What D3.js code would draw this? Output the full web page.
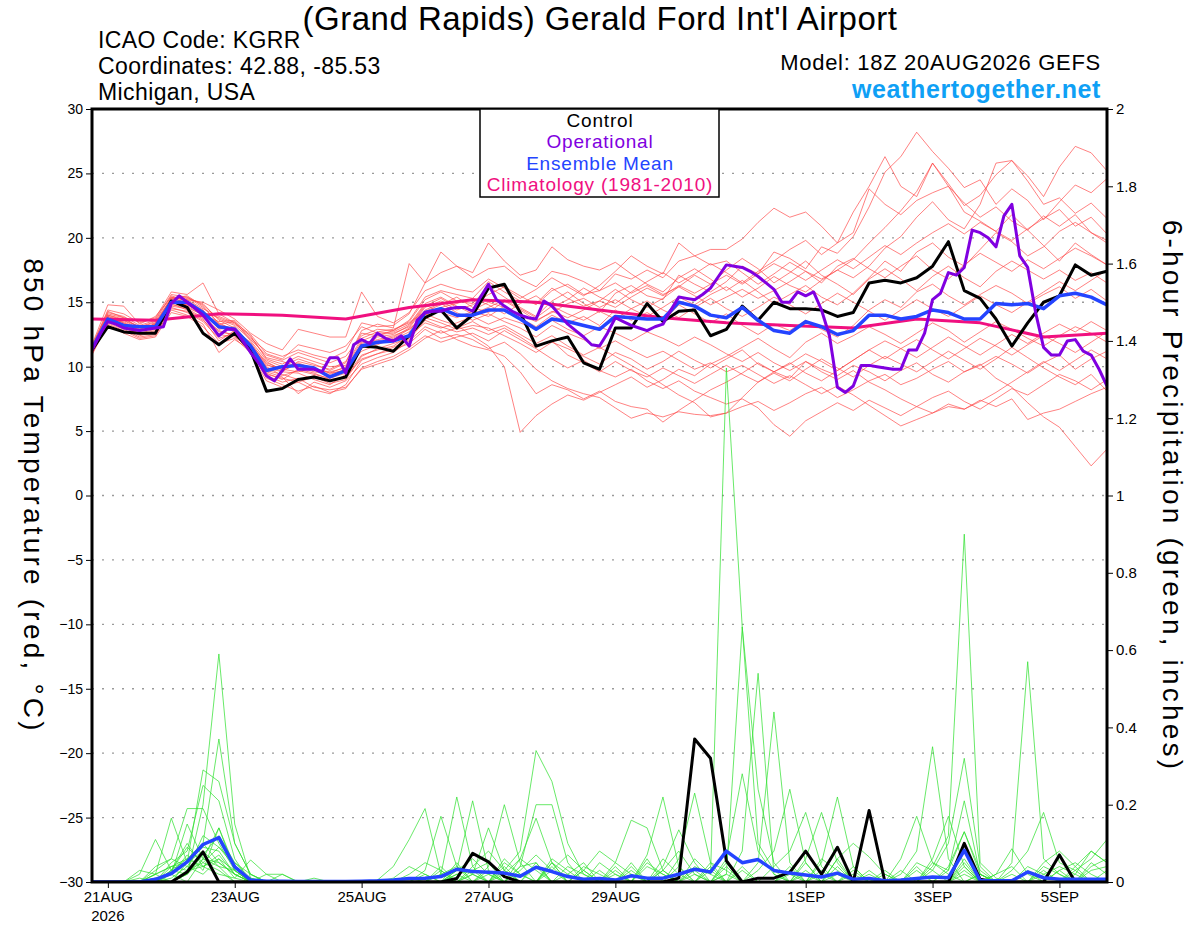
<!DOCTYPE html>
<html>
<head>
<meta charset="utf-8">
<script src="https://cdn.jsdelivr.net/npm/d3@7"></script>
<style>
  html, body { margin:0; padding:0; background:#fff; }
  svg { display:block; font-family: "Liberation Sans", Arial, sans-serif; }
</style>
</head>
<body>
<svg id="chart" width="1200" height="927"></svg>
<script>
// ---------------- DATA ----------------
const runStart = "2026-08-20T18:00:00Z";   // 6-hourly steps, 65 points
const xTickDates  = ["2026-08-21","2026-08-23","2026-08-25","2026-08-27","2026-08-29","2026-09-01","2026-09-03","2026-09-05"];
const xTickLabels = ["21AUG","23AUG","25AUG","27AUG","29AUG","1SEP","3SEP","5SEP"];
const tempTicks = [30,25,20,15,10,5,0,-5,-10,-15,-20,-25,-30];
const precipTicks = [0,0.2,0.4,0.6,0.8,1,1.2,1.4,1.6,1.8,2];

// Control 850 hPa temperature (6-hourly)
const controlTemp = [11.3,13.1,12.7,12.6,12.6,15.1,14.6,12.6,11.7,12.6,
  11.3,8.1,8.3,9.0,9.2,8.9,9.2,11.6,11.5,11.2,
  12.4,13.8,14.4,13.0,14.0,16.1,16.4,14.2,11.6,12.0,
  12.3,10.3,9.8,13.0,13.0,14.9,13.5,14.3,14.4,12.4,
  12.9,14.7,13.6,15.0,14.5,14.5,14.4,13.9,14.2,16.5,
  16.7,16.5,16.9,17.8,19.7,15.9,15.3,13.7,11.6,13.4,
  15.0,15.5,17.9,17.1,17.4];
// Ensemble mean temperature (6-hourly)
const meanTemp = [11.4,13.7,13.2,13.1,13.1,15.0,15.0,14.2,13.1,12.9,
  11.6,9.7,10.0,10.1,9.9,9.2,9.7,11.6,11.9,12.0,
  12.4,14.2,14.5,14.0,14.0,14.4,14.4,13.7,12.9,13.7,
  13.5,13.2,12.9,13.9,13.8,13.7,13.7,15.0,14.7,14.0,
  13.8,14.6,13.6,12.8,12.6,13.5,13.1,12.5,12.8,14.0,
  14.0,13.7,13.9,14.4,14.2,13.7,13.7,14.9,14.8,14.9,
  14.5,15.5,15.7,15.4,14.8];
// Operational run temperature (3-hourly, 129 points)
const operTemp = [11.3,12.5,13.5,13.3,13.0,12.9,12.8,12.9,13.0,13.1,
  14.9,15.5,15.0,14.5,14.0,13.2,12.4,12.9,12.9,12.0,
  11.1,10.3,9.3,8.9,9.7,10.6,9.8,9.8,9.8,9.6,
  10.7,10.7,9.5,11.7,12.1,11.8,12.6,12.2,12.0,12.4,
  11.6,13.6,14.2,14.3,14.3,14.5,14.6,14.6,14.3,15.4,
  16.4,15.2,14.7,14.3,14.0,13.8,13.7,15.1,14.7,14.0,
  13.3,12.8,12.3,11.7,11.6,12.6,13.8,13.5,13.2,13.0,
  12.8,13.1,13.3,14.4,15.4,15.3,15.2,15.6,16.1,17.0,
  17.9,17.8,17.7,17.4,17.0,16.5,16.0,15.0,15.0,15.8,
  15.5,15.8,14.4,12.4,8.4,8.0,8.5,10.1,10.1,10.0,
  9.9,9.8,9.8,11.3,11.3,12.6,15.2,15.7,17.3,17.1,
  17.7,20.6,20.4,20.0,19.3,21.7,22.6,18.6,17.7,14.2,
  11.5,10.9,10.9,12.0,12.1,11.2,10.9,9.8,8.5];
// Climatology 1981-2010 (daily, 17 points from 18Z 20AUG)
const climTemp = [13.7,13.6,14.1,14.0,13.7,14.6,15.2,15.0,14.4,13.8,13.4,13.2,13.0,13.7,13.4,12.3,12.6];

// Ensemble members, temperature (6-hourly)
const tempMembers = [
 [11.2,13.9,13.6,12.9,13.3,15.2,15.4,14.6,13.4,12.8, 11.9,10.2,9.6,10.4,10.1,9.8,10.4,12.6,12.4,12.8, 13.5,15.2,15.8,15.1,14.9,16.2,15.4,14.6,13.9,15.1, 15.8,14.9,14.2,15.7,16.3,15.5,15.2,17.1,16.4,15.8, 16.6,17.8,17.2,18.9,18.4,17.6,19.3,18.8,20.1,22.4, 25.1,26.3,28.2,26.7,25.4,23.9,24.5,22.6,23.8,22.9, 21.4,22.8,24.1,23.5,24.6],
 [11.0,13.5,13.1,12.6,12.9,14.8,14.6,14.0,12.7,12.5, 11.2,9.4,9.1,8.8,9.2,8.7,9.0,10.8,11.4,11.8, 12.2,13.8,13.4,12.9,13.2,13.0,12.4,11.8,11.1,11.9, 11.4,10.8,10.2,11.1,10.6,9.8,10.4,11.2,10.5,9.9, 10.6,11.3,10.2,9.6,9.1,10.4,9.8,9.3,10.1,9.6, 8.9,9.7,10.3,9.4,8.8,9.6,10.2,9.1,8.4,7.2, 6.1,5.3,3.8,2.3,3.6],
 [11.5,14.2,13.9,13.2,13.6,15.5,15.1,14.4,12.9,13.1, 11.7,10.1,9.9,10.3,9.8,9.6,9.9,11.8,12.1,12.4, 12.9,14.1,13.6,13.2,12.4,11.6,10.0,4.9,6.2,7.1, 7.8,7.4,8.0,8.6,9.2,8.4,9.0,9.8,9.3,10.2, 10.8,11.5,12.2,11.4,10.7,11.9,12.6,11.8,12.4,13.1, 12.5,11.8,12.6,13.4,12.8,11.9,12.7,13.5,12.9,12.2, 11.6,12.4,13.1,12.6,11.9],
 [11.3,13.7,13.2,12.4,12.7,14.6,14.2,13.5,12.2,12.6, 11.0,8.9,8.4,8.8,8.2,7.9,8.6,10.5,11.0,11.3, 11.8,12.9,12.2,12.5,12.1,11.4,11.9,11.0,9.8,8.9, 8.3,7.9,7.6,6.8,6.0,6.4,6.1,6.5,6.3,6.2, 6.4,6.9,7.3,6.6,7.2,7.9,8.4,7.6,8.2,8.9, 9.4,8.6,9.1,9.8,10.4,9.6,10.1,10.8,10.2,9.5, 10.3,10.9,9.8,10.6,11.2],
 [11.6,14.4,14.1,13.4,13.8,15.8,15.6,16.5,14.1,13.4, 12.2,11.2,10.8,11.3,10.9,10.6,11.2,13.4,13.1,13.2, 14.1,16.5,17.3,17.8,17.3,19.6,18.2,17.1,17.5,19.3, 18.3,17.8,17.5,18.1,17.2,16.4,15.8,16.9,17.6,16.8, 15.9,16.7,15.8,14.9,15.6,16.3,15.4,14.8,15.7,16.9, 18.2,17.4,18.9,19.6,18.5,17.8,19.1,20.4,19.7,18.6, 19.3,20.5,21.2,20.4,19.8],
 [11.1,13.6,13.5,12.8,13.0,15.0,15.3,14.9,13.6,13.0, 11.6,10.0,9.3,9.7,9.4,9.1,9.5,11.9,12.0,12.3, 13.0,14.6,15.1,14.4,14.8,15.6,16.2,15.5,14.8,15.9, 16.4,15.6,15.9,17.2,16.8,17.5,16.9,18.2,18.6,19.1, 19.1,19.9,21.2,22.3,21.6,22.0,20.9,19.6,22.0,24.0, 26.3,24.0,23.2,25.8,24.0,22.0,21.3,20.5,21.8,20.6, 19.4,18.2,19.6,18.7,17.9],
 [11.4,13.8,13.3,12.7,13.4,15.1,14.8,14.2,13.8,13.3, 12.4,10.6,10.2,10.8,10.4,10.0,10.1,12.2,12.7,12.9, 13.4,14.3,14.8,15.4,14.6,14.2,15.1,14.4,13.6,14.2, 14.9,15.3,14.6,15.2,14.5,13.9,14.6,15.4,14.8,15.6, 16.2,15.4,16.1,17.0,16.3,15.8,16.7,17.5,16.9,17.8, 19.2,20.1,21.6,22.8,21.4,20.7,22.6,25.8,26.0,24.8, 23.2,25.5,27.1,26.6,25.2],
 [10.9,13.4,12.9,12.3,12.5,14.4,14.0,13.3,11.1,12.1, 11.3,9.1,8.6,8.1,8.5,8.0,8.3,9.9,10.4,10.8, 11.5,12.4,11.9,12.3,12.6,12.0,12.8,12.1,11.4,10.6, 9.9,10.5,9.7,9.2,9.8,8.9,8.3,8.9,8.1,7.6, 7.1,7.5,6.8,5.5,4.6,5.8,6.5,7.2,6.6,7.4, 6.8,6.2,6.9,7.6,8.1,7.3,6.7,7.5,8.3,7.8, 8.6,9.4,8.9,8.2,9.0],
 [11.7,14.8,14.7,13.3,13.9,15.4,15.2,15.0,14.4,13.7, 12.6,11.8,11.3,12.9,12.6,12.3,12.3,15.8,13.9,13.4, 14.2,15.9,16.4,16.0,15.8,16.8,16.1,15.3,16.0,16.9, 16.2,15.5,16.3,17.4,18.6,17.8,17.2,19.6,18.6,17.9, 18.2,17.3,16.4,17.2,18.1,17.4,16.5,17.8,18.4,17.6, 16.9,17.8,18.6,17.5,16.8,17.9,18.8,18.1,17.4,18.3, 17.6,18.4,19.2,18.6,17.9],
 [11.3,14.0,13.7,13.1,13.5,15.3,15.5,14.7,13.3,13.5, 12.0,10.5,10.0,10.6,10.2,9.7,10.3,12.8,13.3,13.0, 18.0,16.5,18.9,17.8,16.9,17.6,17.8,16.8,16.2,17.4, 17.1,16.6,15.9,16.5,15.7,16.3,15.6,16.2,17.1,16.4, 17.5,18.4,17.6,16.5,17.3,18.2,17.1,16.4,15.6,16.8, 17.6,16.8,15.9,17.0,17.8,16.9,16.2,17.4,18.2,17.5, 16.8,17.5,16.7,17.3,16.5],
 [11.2,13.3,12.8,12.2,12.4,14.5,14.3,13.6,12.5,12.3, 11.4,9.6,9.2,7.9,8.8,8.4,8.9,10.2,10.7,11.1, 12.0,13.1,12.6,13.0,13.5,12.8,13.2,12.5,11.8,12.4, 11.6,10.9,11.5,10.8,10.1,9.4,8.6,7.8,7.2,6.1, 6.4,7.6,8.8,9.5,8.9,9.8,10.6,9.9,9.2,10.1, 10.8,10.2,9.6,10.4,11.2,10.5,9.8,10.6,11.5,10.7, 9.9,9.2,8.6,9.4,8.1],
 [11.5,14.1,13.8,13.0,13.2,15.4,14.9,14.1,13.0,12.9, 11.8,9.9,9.6,9.5,9.0,8.6,9.4,11.5,11.8,12.1, 12.7,14.4,14.9,14.2,13.6,14.1,13.5,13.0,12.3,13.2, 12.6,12.1,11.4,12.0,11.3,10.7,11.2,10.5,9.8,10.3, 9.6,10.1,9.4,8.7,9.3,8.6,7.9,8.5,7.8,7.0, 6.2,5.4,5.9,6.4,6.9,6.7,7.4,6.9,7.5,5.9, 6.4,6.7,7.3,7.9,8.4],
 [11.4,13.9,13.4,12.8,13.1,14.9,15.0,14.3,13.2,12.7, 11.5,10.3,9.8,9.6,9.9,9.5,9.7,11.4,12.3,12.5, 13.2,14.8,14.2,13.8,14.3,13.9,14.7,13.8,13.1,14.0, 13.4,13.9,13.2,14.4,13.6,14.2,13.5,14.8,14.1,13.4, 14.1,13.2,12.5,13.3,12.8,13.6,12.9,12.3,13.2,14.4, 15.2,14.6,15.8,16.4,15.5,14.8,15.6,16.3,15.7,14.9, 15.6,16.2,15.3,16.0,15.1],
 [11.6,14.3,13.8,13.5,13.7,15.6,15.4,14.8,13.7,13.2, 12.1,10.9,10.5,11.1,10.7,10.3,10.8,12.4,12.9,12.8, 13.6,15.4,15.9,15.6,15.3,16.6,15.8,15.1,14.9,16.1, 15.3,14.7,15.1,16.0,15.2,14.6,15.3,16.2,15.5,14.8, 15.4,16.0,15.3,15.9,16.6,17.4,16.8,17.5,18.3,19.6, 20.8,22.1,23.6,25.8,24.2,22.5,23.3,24.9,26.0,24.4, 22.6,23.1,21.9,22.7,21.5],
 [11.0,13.2,12.6,12.1,12.3,14.2,13.9,13.1,11.8,12.2, 11.1,9.3,8.8,9.1,8.4,8.2,8.4,9.8,10.2,10.6, 11.3,12.2,12.8,12.1,11.6,11.3,10.8,9.6,7.9,8.6, 8.2,7.5,8.1,7.3,6.9,6.7,5.7,6.6,7.4,8.2, 8.8,9.5,10.3,9.6,10.2,11.0,10.4,9.7,10.5,11.3, 12.0,11.4,10.7,11.5,12.3,11.6,10.9,11.7,12.5,11.8, 12.6,13.3,12.7,13.5,12.8],
 [11.3,13.6,13.2,12.9,13.3,15.1,14.7,14.0,13.5,13.6, 12.3,10.7,10.4,10.0,9.6,9.4,9.8,11.2,11.7,12.2, 12.9,14.0,14.6,14.9,15.3,14.8,14.1,14.9,15.5,14.6, 15.2,16.1,15.4,14.9,15.8,16.6,17.3,16.5,17.2,18.0, 17.3,16.5,17.4,18.2,19.1,19.8,18.7,19.6,20.4,23.8, 22.6,21.8,22.9,23.5,24.0,22.7,21.6,22.4,21.3,20.6, 21.7,20.9,21.8,20.4,19.6],
 [11.2,13.5,13.0,12.5,12.8,14.7,14.5,13.8,12.8,12.4, 11.3,9.7,9.4,9.0,9.3,8.9,9.2,10.9,11.3,11.6, 12.4,13.4,13.0,13.4,13.9,13.3,13.8,13.4,12.9,13.6, 12.9,12.4,13.1,12.6,12.0,12.7,12.2,11.6,12.3,11.7, 11.0,10.4,11.1,10.3,9.7,10.4,9.6,9.0,9.7,8.8, 8.2,7.5,6.9,6.4,7.1,6.7,7.3,8.0,8.8,9.6, 10.4,9.7,10.5,11.3,10.6],
 [11.5,14.0,13.6,13.1,13.4,15.3,15.2,14.5,13.9,13.4, 12.5,11.0,10.6,11.7,11.4,11.1,11.6,13.1,12.6,12.7, 13.3,14.9,15.4,14.7,14.1,14.6,15.2,14.5,13.8,14.7, 14.1,13.6,14.3,13.7,14.5,15.1,14.4,13.8,14.6,15.3, 14.5,13.9,14.6,15.4,14.8,14.1,14.9,15.7,15.0,14.3, 13.6,14.4,15.2,14.5,13.9,14.7,15.5,14.8,14.2,15.0, 15.8,16.6,15.9,16.7,17.5],
 [11.1,13.7,13.0,12.6,12.6,14.9,14.4,13.7,12.0,12.8, 11.5,9.5,9.0,9.8,9.5,9.0,9.2,10.6,11.0,11.5, 12.1,13.6,13.1,12.7,13.0,12.5,13.0,12.3,11.5,12.0, 10.9,10.3,9.6,10.4,9.7,9.2,9.9,9.3,8.7,9.4, 10.1,9.4,8.8,9.6,10.3,9.5,8.9,9.7,10.5,11.3, 10.6,11.4,12.1,11.3,10.6,11.4,12.2,11.6,10.9,11.7, 12.4,11.8,11.1,11.9,12.7],
 [11.3,13.8,13.4,12.8,13.0,15.0,14.8,14.2,13.3,12.9, 11.7,10.4,9.7,10.2,9.9,9.5,10.0,12.0,12.5,12.6, 13.1,14.7,15.3,14.6,14.4,15.0,14.6,14.0,13.5,14.3, 13.8,14.4,15.1,14.6,15.4,16.1,15.5,16.3,15.7,16.4, 17.1,16.4,17.2,18.0,17.4,16.7,17.5,18.3,17.6,18.5, 19.4,18.7,19.6,20.4,21.1,20.3,21.2,20.5,19.8,20.7, 21.5,22.2,20.9,21.6,20.3]
];

// Control 6-hour precipitation (inches)
const controlPrecip = [0,0,0,0,0,0,0.026,0.078,0,0,
  0,0,0,0,0,0,0,0,0,0,
  0,0,0,0.009,0.074,0.052,0.014,0,0,0,
  0,0,0,0,0,0,0,0.01,0.37,0.32,
  0.055,0,0.01,0.01,0.025,0.08,0.02,0.09,0,0.185,
  0,0,0,0,0,0.1,0.007,0,0,0,
  0,0.07,0,0,0];
// Ensemble mean 6-hour precipitation (inches)
const meanPrecip = [0,0,0,0,0.007,0.022,0.052,0.097,0.115,0.039,
  0.005,0.002,0.002,0.001,0.001,0.001,0.001,0.002,0.003,0.005,
  0.009,0.01,0.014,0.033,0.027,0.025,0.023,0.015,0.038,0.027,
  0.014,0.007,0.009,0.005,0.016,0.01,0.01,0.02,0.033,0.026,
  0.08,0.05,0.058,0.03,0.023,0.018,0.013,0.023,0.007,0.009,
  0.003,0.005,0.009,0.013,0.011,0.082,0.004,0.003,0.003,0.026,
  0.011,0.007,0.007,0.007,0.007];
// Ensemble members precipitation: [step, inches] for steps with rain (others 0)
const precipMembers = [
 [[3,0.01],[5,0.03],[6,0.02],[7,0.2],[8,0.59],[9,0.15],[10,0.01],[23,0.03],[24,0.06],[25,0.02],[30,0.02],[31,0.05],[36,0.03],[38,0.04],[39,0.02],[40,1.33],[41,0.66],[42,0.1],[43,0.03],[47,0.02],[49,0.03],[56,0.02]],
 [[4,0.03],[5,0.06],[6,0.04],[7,0.1],[8,0.37],[9,0.1],[10,0.02],[22,0.03],[26,0.05],[27,0.02],[33,0.03],[35,0.06],[38,0.02],[41,0.03],[45,0.05],[53,0.04],[54,0.12],[55,0.9],[56,0.05],[57,0.01]],
 [[4,0.02],[5,0.04],[6,0.05],[7,0.29],[8,0.26],[9,0.1],[10,0.02],[24,0.04],[25,0.08],[26,0.03],[29,0.05],[30,0.02],[36,0.06],[37,0.02],[40,0.02],[41,0.66],[42,0.24],[43,0.05],[48,0.04],[55,0.06],[62,0.03]],
 [[5,0.05],[6,0.08],[7,0.25],[8,0.21],[9,0.06],[21,0.02],[23,0.05],[27,0.06],[28,0.03],[34,0.05],[39,0.04],[41,0.08],[42,0.54],[43,0.02],[46,0.06],[47,0.03],[55,0.04],[59,0.03]],
 [[4,0.04],[5,0.06],[6,0.19],[7,0.19],[8,0.1],[9,0.03],[20,0.01],[22,0.04],[25,0.03],[28,0.05],[32,0.03],[37,0.04],[42,0.05],[43,0.44],[44,0.05],[50,0.02],[52,0.03],[60,0.02],[61,0.04],[62,0.02]],
 [[3,0.03],[4,0.02],[5,0.165],[6,0.05],[7,0.08],[8,0.04],[23,0.02],[24,0.03],[29,0.04],[34,0.02],[38,0.06],[39,0.02],[44,0.04],[47,0.06],[55,0.03],[58,0.05],[59,0.57],[60,0.06],[61,0.02]],
 [[3,0.02],[4,0.11],[5,0.03],[6,0.06],[7,0.04],[8,0.07],[9,0.02],[19,0.01],[20,0.04],[21,0.02],[26,0.03],[27,0.08],[28,0.34],[29,0.26],[30,0.1],[31,0.02],[35,0.04],[36,0.02],[45,0.03],[53,0.05],[54,0.02],[63,0.04],[64,0.06]],
 [[5,0.02],[6,0.15],[7,0.06],[8,0.05],[9,0.02],[24,0.03],[25,0.05],[27,0.04],[28,0.2],[29,0.2],[30,0.05],[33,0.02],[40,0.04],[44,0.02],[53,0.03],[54,0.1],[55,0.32],[56,0.04],[61,0.03],[62,0.05],[63,0.02]],
 [[4,0.01],[6,0.03],[7,0.05],[8,0.09],[9,0.04],[18,0.005],[19,0.04],[20,0.11],[21,0.19],[22,0.02],[24,0.02],[31,0.04],[32,0.02],[39,0.03],[46,0.02],[51,0.02],[52,0.08],[53,0.35],[54,0.06],[58,0.02],[64,0.03]],
 [[5,0.01],[6,0.04],[7,0.02],[8,0.06],[9,0.03],[21,0.03],[22,0.17],[23,0.04],[26,0.06],[27,0.02],[33,0.05],[34,0.02],[42,0.03],[43,0.08],[44,0.24],[45,0.05],[50,0.03],[56,0.02],[60,0.04],[61,0.02]],
 [[5,0.02],[6,0.07],[7,0.03],[8,0.14],[9,0.04],[22,0.02],[23,0.22],[24,0.04],[29,0.06],[30,0.03],[35,0.05],[36,0.02],[40,0.05],[46,0.05],[47,0.22],[48,0.04],[55,0.05],[62,0.04],[63,0.08],[64,0.05]],
 [[4,0.02],[5,0.04],[6,0.03],[7,0.12],[8,0.09],[9,0.05],[10,0.01],[23,0.03],[24,0.21],[25,0.03],[30,0.04],[31,0.02],[37,0.06],[38,0.23],[39,0.05],[44,0.03],[49,0.02],[57,0.02],[58,0.04]],
 [[5,0.03],[6,0.09],[7,0.05],[8,0.03],[12,0.02],[24,0.02],[25,0.14],[26,0.03],[28,0.04],[32,0.05],[33,0.02],[40,0.06],[41,0.28],[42,0.08],[43,0.02],[48,0.03],[54,0.04],[55,0.13],[56,0.02]],
 [[6,0.02],[7,0.07],[8,0.12],[9,0.05],[10,0.02],[25,0.04],[26,0.2],[27,0.05],[31,0.03],[35,0.07],[36,0.22],[37,0.04],[41,0.04],[45,0.02],[52,0.05],[53,0.03],[59,0.04],[60,0.02]],
 [[4,0.02],[6,0.05],[7,0.09],[8,0.08],[9,0.02],[26,0.02],[27,0.06],[28,0.165],[29,0.05],[34,0.03],[39,0.05],[40,0.03],[47,0.04],[51,0.06],[52,0.17],[53,0.05],[54,0.03],[55,0.21],[56,0.02],[63,0.03],[64,0.04]],
 [[5,0.03],[6,0.1],[7,0.04],[8,0.06],[9,0.01],[11,0.02],[25,0.02],[31,0.03],[32,0.08],[33,0.05],[34,0.16],[35,0.14],[36,0.03],[43,0.04],[44,0.08],[45,0.18],[46,0.04],[55,0.02],[60,0.05],[61,0.08],[62,0.04]],
 [[6,0.02],[7,0.06],[8,0.04],[9,0.03],[20,0.02],[21,0.05],[22,0.03],[27,0.03],[28,0.07],[29,0.03],[36,0.04],[37,0.135],[38,0.05],[46,0.03],[52,0.04],[58,0.03],[59,0.08],[60,0.18],[61,0.05],[62,0.03],[63,0.06],[64,0.11]],
 [[5,0.04],[6,0.06],[7,0.1],[8,0.05],[9,0.02],[14,0.01],[26,0.04],[29,0.03],[30,0.07],[31,0.03],[33,0.04],[38,0.03],[45,0.06],[46,0.18],[47,0.05],[53,0.06],[54,0.17],[55,0.04],[61,0.03],[63,0.05],[64,0.02]],
 [[4,0.01],[5,0.02],[7,0.06],[8,0.14],[9,0.03],[23,0.02],[27,0.04],[28,0.05],[34,0.04],[40,0.02],[47,0.06],[48,0.1],[49,0.065],[50,0.02],[54,0.03],[55,0.13],[56,0.03],[60,0.03]],
 [[6,0.03],[7,0.04],[8,0.02],[9,0.01],[10,0.057],[11,0.02],[12,0.02],[22,0.02],[23,0.04],[24,0.02],[29,0.05],[36,0.03],[37,0.08],[38,0.02],[48,0.02],[51,0.03],[57,0.02],[58,0.086],[59,0.02],[62,0.02],[63,0.08],[64,0.05]]
];

// ---------------- CHART ----------------
const M = {left: 92, right: 1107, top: 109, bottom: 882};
const svg = d3.select("#chart");
const t0 = new Date(runStart).getTime();
const HOUR = 3600e3;
const timeAt = (h) => new Date(t0 + h * HOUR);

const x = d3.scaleUtc().domain([timeAt(0), timeAt(384)]).range([M.left, M.right]);
const yT = d3.scaleLinear().domain([-30, 30]).range([M.bottom, M.top]);
const yP = d3.scaleLinear().domain([0, 2]).range([M.bottom, M.top]);

svg.append("defs").append("clipPath").attr("id","plotclip")
  .append("rect").attr("x", M.left).attr("y", M.top)
  .attr("width", M.right - M.left).attr("height", M.bottom - M.top);

// Gridlines
svg.append("g").selectAll("line").data(tempTicks.filter(v => v > -30 && v < 30)).join("line")
  .attr("x1", M.left).attr("x2", M.right)
  .attr("y1", d => yT(d)).attr("y2", d => yT(d))
  .attr("stroke", "#9a9a9a").attr("stroke-width", 1.3)
  .attr("stroke-dasharray", "2,8");

const plot = svg.append("g").attr("clip-path", "url(#plotclip)");

const line6T = d3.line().x((d,i) => x(timeAt(i*6))).y(d => yT(d));
const line3T = d3.line().x((d,i) => x(timeAt(i*3))).y(d => yT(d));
const line24T = d3.line().x((d,i) => x(timeAt(i*24))).y(d => yT(d));
const line6P = d3.line().x((d,i) => x(timeAt(i*6))).y(d => yP(d));

const denseP = (pairs) => {
  const arr = new Array(meanPrecip.length).fill(0);
  pairs.forEach(([k,v]) => { arr[k] = v; });
  return arr;
};

plot.append("g").selectAll("path").data(tempMembers).join("path")
  .attr("d", line6T).attr("fill","none")
  .attr("stroke","#ff4545").attr("stroke-opacity",0.85).attr("stroke-width",0.8);

plot.append("g").selectAll("path").data(precipMembers.map(denseP)).join("path")
  .attr("d", line6P).attr("fill","none")
  .attr("stroke","#2ee02e").attr("stroke-opacity",0.9).attr("stroke-width",0.8);

plot.append("path").datum(climTemp).attr("d", line24T).attr("fill","none")
  .attr("stroke","#f0107f").attr("stroke-width",3).attr("stroke-linejoin","round");

plot.append("path").datum(controlPrecip).attr("d", line6P).attr("fill","none")
  .attr("stroke","#000").attr("stroke-width",3).attr("stroke-linejoin","round");
plot.append("path").datum(controlTemp).attr("d", line6T).attr("fill","none")
  .attr("stroke","#000").attr("stroke-width",3).attr("stroke-linejoin","round");

plot.append("path").datum(meanPrecip).attr("d", line6P).attr("fill","none")
  .attr("stroke","#2444ff").attr("stroke-width",3.5).attr("stroke-linejoin","round");
plot.append("path").datum(meanTemp).attr("d", line6T).attr("fill","none")
  .attr("stroke","#2444ff").attr("stroke-width",3.5).attr("stroke-linejoin","round");

plot.append("path").datum(operTemp).attr("d", line3T).attr("fill","none")
  .attr("stroke","#8000e0").attr("stroke-width",3).attr("stroke-linejoin","round");

// Frame
svg.append("rect").attr("x", M.left).attr("y", M.top)
  .attr("width", M.right - M.left).attr("height", M.bottom - M.top)
  .attr("fill","none").attr("stroke","#000").attr("stroke-width",3);

// Axes
const fmtP = d => String(+d.toFixed(1));
const axL = svg.append("g").attr("transform", `translate(${M.left - 1},0)`)
  .call(d3.axisLeft(yT).tickValues(tempTicks).tickSize(5).tickPadding(3));
const axR = svg.append("g").attr("transform", `translate(${M.right + 1},0)`)
  .call(d3.axisRight(yP).tickValues(precipTicks).tickFormat(fmtP).tickSize(5).tickPadding(3));
const axB = svg.append("g").attr("transform", `translate(0,${M.bottom + 1})`)
  .call(d3.axisBottom(x).tickValues(xTickDates.map(s => new Date(s + "T00:00:00Z")))
    .tickFormat((d,i) => xTickLabels[i]).tickSize(5).tickPadding(3));
[axL, axR, axB].forEach(a => {
  a.select(".domain").remove();
  a.selectAll("line").attr("stroke","#000");
  a.selectAll("text").attr("fill","#000").style("font-family","'Liberation Sans', Arial, sans-serif");
});
axL.selectAll("text").style("font-size","14px");
axR.selectAll("text").style("font-size","15px");
axB.selectAll("text").style("font-size","15px");
svg.append("text").attr("x", x(new Date(xTickDates[0] + "T00:00:00Z"))).attr("y", 921)
  .attr("text-anchor","middle").style("font-size","15px").text("2026");

// Axis titles (both read top-to-bottom)
svg.append("text").attr("transform","translate(24,496) rotate(90)")
  .attr("text-anchor","middle").style("font-size","28px").style("letter-spacing","3.2px")
  .text("850 hPa Temperature (red, \u00B0C)");
svg.append("text").attr("transform","translate(1163,496) rotate(90)")
  .attr("text-anchor","middle").style("font-size","28px").style("letter-spacing","3.2px")
  .text("6-hour Precipitation (green, inches)");

// Titles
svg.append("text").attr("x",600).attr("y",30).attr("text-anchor","middle")
  .style("font-size","33px").style("letter-spacing","0.5px")
  .text("(Grand Rapids) Gerald Ford Int'l Airport");
const info = ["ICAO Code: KGRR","Coordinates: 42.88, -85.53","Michigan, USA"];
svg.append("g").selectAll("text").data(info).join("text")
  .attr("x",98).attr("y",(d,i) => 48 + i*26).style("font-size","23px").style("letter-spacing","0.4px")
  .text(d => d);
svg.append("text").attr("x",1101).attr("y",70).attr("text-anchor","end")
  .style("font-size","22px").style("letter-spacing","0.7px").text("Model: 18Z 20AUG2026 GEFS");
svg.append("text").attr("x",1101).attr("y",98).attr("text-anchor","end")
  .style("font-size","25px").style("font-weight","bold").style("letter-spacing","0.6px").attr("fill","#0fa0f5")
  .text("weathertogether.net");

// Legend
const legendItems = [
  {label:"Control", color:"#000"},
  {label:"Operational", color:"#8000e0"},
  {label:"Ensemble Mean", color:"#2444ff"},
  {label:"Climatology (1981-2010)", color:"#f0107f"}
];
svg.append("rect").attr("x",480).attr("y",109).attr("width",239).attr("height",88)
  .attr("fill","#fff").attr("stroke","#000").attr("stroke-width",1.5);
svg.append("g").selectAll("text").data(legendItems).join("text")
  .attr("x",600).attr("y",(d,i) => 127 + i*21.3).attr("text-anchor","middle")
  .style("font-size","19px").style("letter-spacing","0.8px")
  .attr("fill", d => d.color).text(d => d.label);
</script>
</body>
</html>
